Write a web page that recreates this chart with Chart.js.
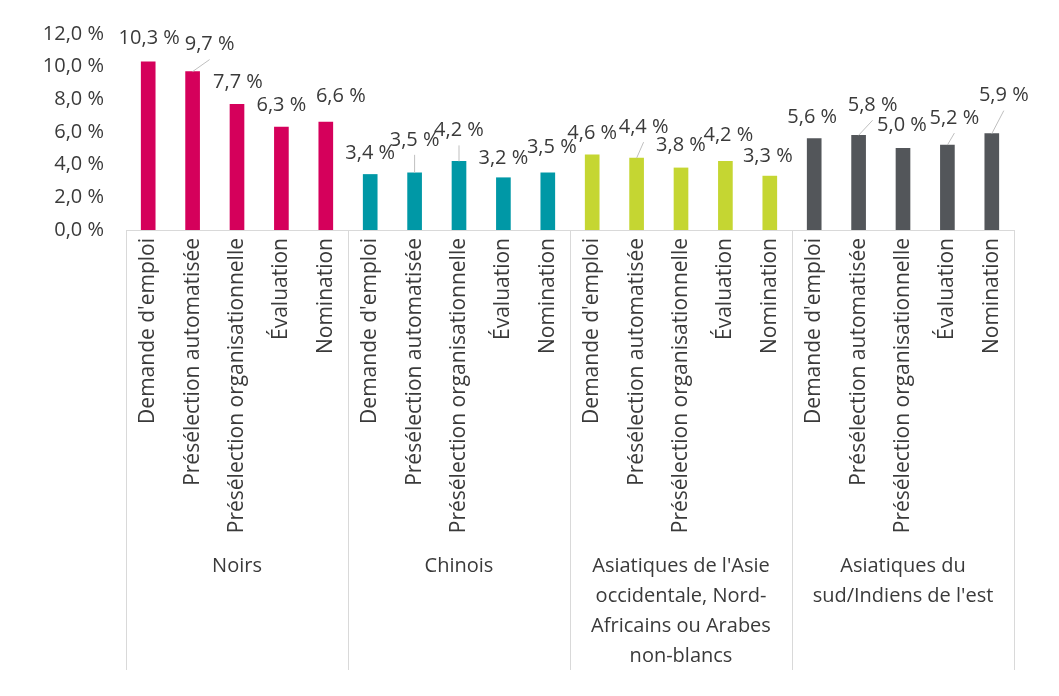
<!DOCTYPE html>
<html>
<head>
<meta charset="utf-8">
<script src="https://cdn.jsdelivr.net/npm/chart.js@4"></script>
<style>
  html, body { margin: 0; padding: 0; background: #fff; }
  #wrap { width: 1059px; height: 696px; }
</style>
</head>
<body>
<div id="wrap"><canvas id="myChart" width="1059" height="696"></canvas></div>
<script>
var stages = ["Demande d'emploi", "Présélection automatisée", "Présélection organisationnelle", "Évaluation", "Nomination"];
var groups = [["Noirs"], ["Chinois"], ["Asiatiques de l'Asie", "occidentale, Nord-", "Africains ou Arabes", "non-blancs"], ["Asiatiques du", "sud/Indiens de l'est"]];
var noirs = [10.3, 9.7, 7.7, 6.3, 6.6];
var chinois = [3.4, 3.5, 4.2, 3.2, 3.5];
var asieOcc = [4.6, 4.4, 3.8, 4.2, 3.3];
var asieSud = [5.6, 5.8, 5.0, 5.2, 5.9];
var yTicks = [0, 2, 4, 6, 8, 10, 12];

var groupColors = ["#d5005b", "#0098a6", "#c5d632", "#53565a"];
// label offsets from the bar top (dx, dy, leader line)
var labelMoves = [
  [1, -23, 0], [17, -27, 1], [1, -22, 0], [0, -22, 0], [15, -26, 0],
  [0, -21, 0], [0, -33, 1], [0, -31, 1], [0, -19, 0], [4, -26, 0],
  [0, -22, 0], [7, -31, 1], [0, -23, 0], [3, -26, 0], [-2, -20, 0],
  [-2, -21, 0], [14, -30, 1], [-1, -23, 0], [7, -27, 1], [12, -38, 1]
];

var font = "'Open Sans', sans-serif";
var textColor = "#3a3a3a";
var lineColor = "#d9d9d9";

var series = [noirs, chinois, asieOcc, asieSud];
var labels = [], values = [], colors = [];
for (var g = 0; g < series.length; g++) {
  for (var i = 0; i < stages.length; i++) {
    labels.push(stages[i]);
    values.push(series[g][i]);
    colors.push(groupColors[g]);
  }
}

function pct(v) {
  return v.toFixed(1).replace('.', ',') + ' %';
}

var groupPlugin = {
  id: 'groupPlugin',
  afterDraw: function(chart) {
    var ctx = chart.ctx;
    var x = chart.scales.x;
    var area = chart.chartArea;
    var n = stages.length;
    var bottom = x.bottom + 120;
    ctx.save();
    ctx.strokeStyle = lineColor;
    ctx.lineWidth = 1;
    for (var g = 0; g <= groups.length; g++) {
      var px;
      if (g == 0) px = area.left;
      else if (g == groups.length) px = area.right;
      else px = (x.getPixelForTick(g * n - 1) + x.getPixelForTick(g * n)) / 2;
      px = Math.round(px) + 0.5;
      ctx.beginPath();
      ctx.moveTo(px, area.bottom);
      ctx.lineTo(px, bottom);
      ctx.stroke();
    }
    ctx.fillStyle = textColor;
    ctx.font = "20px " + font;
    ctx.textAlign = 'center';
    ctx.textBaseline = 'middle';
    for (var g = 0; g < groups.length; g++) {
      var cx = (x.getPixelForTick(g * n) + x.getPixelForTick(g * n + n - 1)) / 2;
      for (var l = 0; l < groups[g].length; l++) {
        ctx.fillText(groups[g][l], cx, x.bottom + 16 + l * 30);
      }
    }

    // data labels
    var meta = chart.getDatasetMeta(0);
    ctx.font = "20px " + font;
    for (var k = 0; k < meta.data.length; k++) {
      var bar = meta.data[k];
      var m = labelMoves[k];
      var lx = bar.x + m[0], ly = bar.y + m[1];
      if (m[2]) {
        ctx.strokeStyle = "#bfbfbf";
        ctx.beginPath();
        ctx.moveTo(lx, ly + 15);
        ctx.lineTo(bar.x, bar.y);
        ctx.stroke();
      }
      ctx.fillStyle = textColor;
      ctx.fillText(pct(values[k]), lx, ly);
    }
    ctx.restore();
  }
};

var ctx = document.getElementById('myChart').getContext('2d');
var myChart = new Chart(ctx, {
  type: 'bar',
  data: {
    labels: labels,
    datasets: [{
      data: values,
      backgroundColor: colors,
      barThickness: 14
    }]
  },
  options: {
    responsive: false,
    animation: false,
    layout: { padding: { top: 28, right: 45, bottom: 146, left: 0 } },
    plugins: { legend: { display: false }, tooltip: { enabled: false } },
    scales: {
      y: {
        min: 0,
        max: 12,
        afterFit: function(s) { s.width = 126; },
        afterBuildTicks: function(s) { s.ticks = yTicks.map(function(v) { return { value: v }; }); },
        grid: { display: false, drawTicks: false },
        border: { display: false },
        ticks: {
          padding: 22,
          color: textColor,
          font: { family: font, size: 20 },
          callback: function(v) { return pct(v); }
        }
      },
      x: {
        afterFit: function(s) { s.height = 320; },
        grid: { display: false, drawTicks: false },
        border: { display: true, color: lineColor, width: 1 },
        ticks: {
          autoSkip: false,
          minRotation: 90,
          maxRotation: 90,
          padding: 8,
          color: textColor,
          font: { family: font, size: 21 }
        }
      }
    }
  },
  plugins: [groupPlugin]
});
</script>
</body>
</html>
